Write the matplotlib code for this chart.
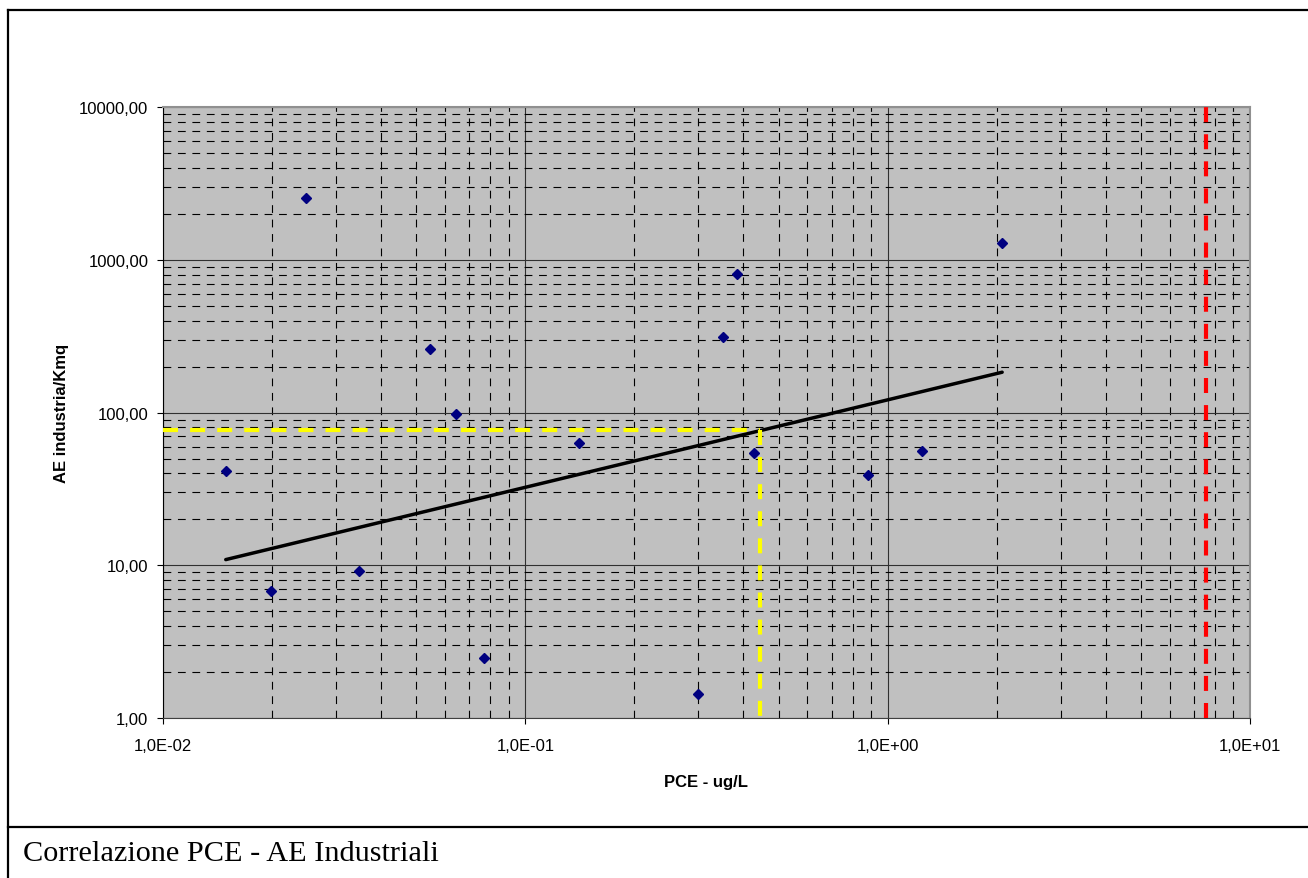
import matplotlib.pyplot as plt
import numpy as np
from matplotlib.lines import Line2D
from matplotlib.ticker import LogLocator, FuncFormatter, NullFormatter

# PCE (ug/L) vs AE industria/Kmq
pce = [0.0149, 0.0199, 0.0248, 0.0348, 0.0547, 0.0643, 0.0771, 0.141,
       0.300, 0.351, 0.385, 0.4285, 0.885, 1.24, 2.07]
ae = [41.3, 6.8, 2558, 9.15, 262, 98, 2.46, 63,
      1.43, 312, 810, 54.5, 39.3, 56.1, 1286]

# power trendline end points
trend_x = [0.0149, 2.07]
trend_y = [10.9, 184]

# reading on the trendline (yellow) and limit (red)
read_x = 0.443
read_y = 76.7
limit_x = 7.56

x_ticks = [0.01, 0.1, 1, 10]
y_ticks = [1, 10, 100, 1000, 10000]

plt.rcParams['font.family'] = ['Liberation Sans', 'DejaVu Sans']

fig = plt.figure(figsize=(13.08, 8.79), dpi=100)
ax = fig.add_axes([163 / 1308, 1 - 719 / 879, (1250 - 163) / 1308, (719 - 108.3) / 879])
ax.set_facecolor('#C0C0C0')
ax.set_xscale('log')
ax.set_yscale('log')
ax.set_xlim(x_ticks[0], x_ticks[-1])
ax.set_ylim(y_ticks[0], y_ticks[-1])
ax.set_xticks(x_ticks)
ax.set_yticks(y_ticks)
ax.xaxis.set_minor_locator(LogLocator(base=10, subs=np.arange(2, 10)))
ax.yaxis.set_minor_locator(LogLocator(base=10, subs=np.arange(2, 10)))
ax.xaxis.set_minor_formatter(NullFormatter())
ax.yaxis.set_minor_formatter(NullFormatter())
ax.xaxis.set_major_formatter(FuncFormatter(lambda v, p: f'{v:.1E}'.replace('.', ',')))
ax.yaxis.set_major_formatter(FuncFormatter(lambda v, p: f'{v:.2f}'.replace('.', ',')))

ax.set_axisbelow(True)
ax.grid(which='major', color='#303030', lw=0.8, ls='-')
ax.grid(which='minor', color='black', lw=0.8, ls=(0, (7, 6)))

ax.tick_params(which='major', direction='out', length=4.5, width=0.8, labelsize=12,
               colors='black', top=False, right=False)
ax.tick_params(axis='x', which='major', pad=10)
ax.tick_params(axis='y', which='major', pad=6)
ax.tick_params(which='minor', length=0)

for s in ['top', 'right']:
    ax.spines[s].set_color('#909090')
    ax.spines[s].set_linewidth(1.5)
ax.spines['left'].set_color('black')
ax.spines['bottom'].set_color('#404040')

ax.plot(pce, ae, 'D', color='#000080', markersize=5.2, zorder=4)
ax.plot(trend_x, trend_y, color='black', lw=2.5, solid_capstyle='round', zorder=3)

ax.plot([x_ticks[0], read_x], [read_y, read_y], color='#FFFF00', lw=3,
        dashes=(3.6, 2.9), zorder=3)
ax.plot([read_x, read_x], [read_y, y_ticks[0]], color='#FFFF00', lw=3,
        dashes=(3.6, 2.9), zorder=3)
ax.axvline(limit_x, color='#FF0000', lw=3, dashes=(3.6, 2.9), zorder=3)

ax.set_xlabel('PCE - ug/L', fontsize=12, fontweight='bold', labelpad=15)
ax.set_ylabel('AE industria/Kmq', fontsize=12, fontweight='bold', labelpad=7)

# outer frame and caption
fig.add_artist(Line2D([7.5 / 1308, 1], [1 - 10.5 / 879, 1 - 10.5 / 879],
                      transform=fig.transFigure, color='black', lw=1.6))
fig.add_artist(Line2D([7.5 / 1308, 7.5 / 1308], [0, 1 - 10.5 / 879],
                      transform=fig.transFigure, color='black', lw=1.6))
fig.add_artist(Line2D([7.5 / 1308, 1], [1 - 828 / 879, 1 - 828 / 879],
                      transform=fig.transFigure, color='black', lw=1.6))
fig.text(23 / 1308, 1 - 854 / 879, 'Correlazione PCE - AE Industriali',
         family='Liberation Serif', fontsize=21.8, va='center', ha='left')

fig.savefig('out.png', dpi=100)
